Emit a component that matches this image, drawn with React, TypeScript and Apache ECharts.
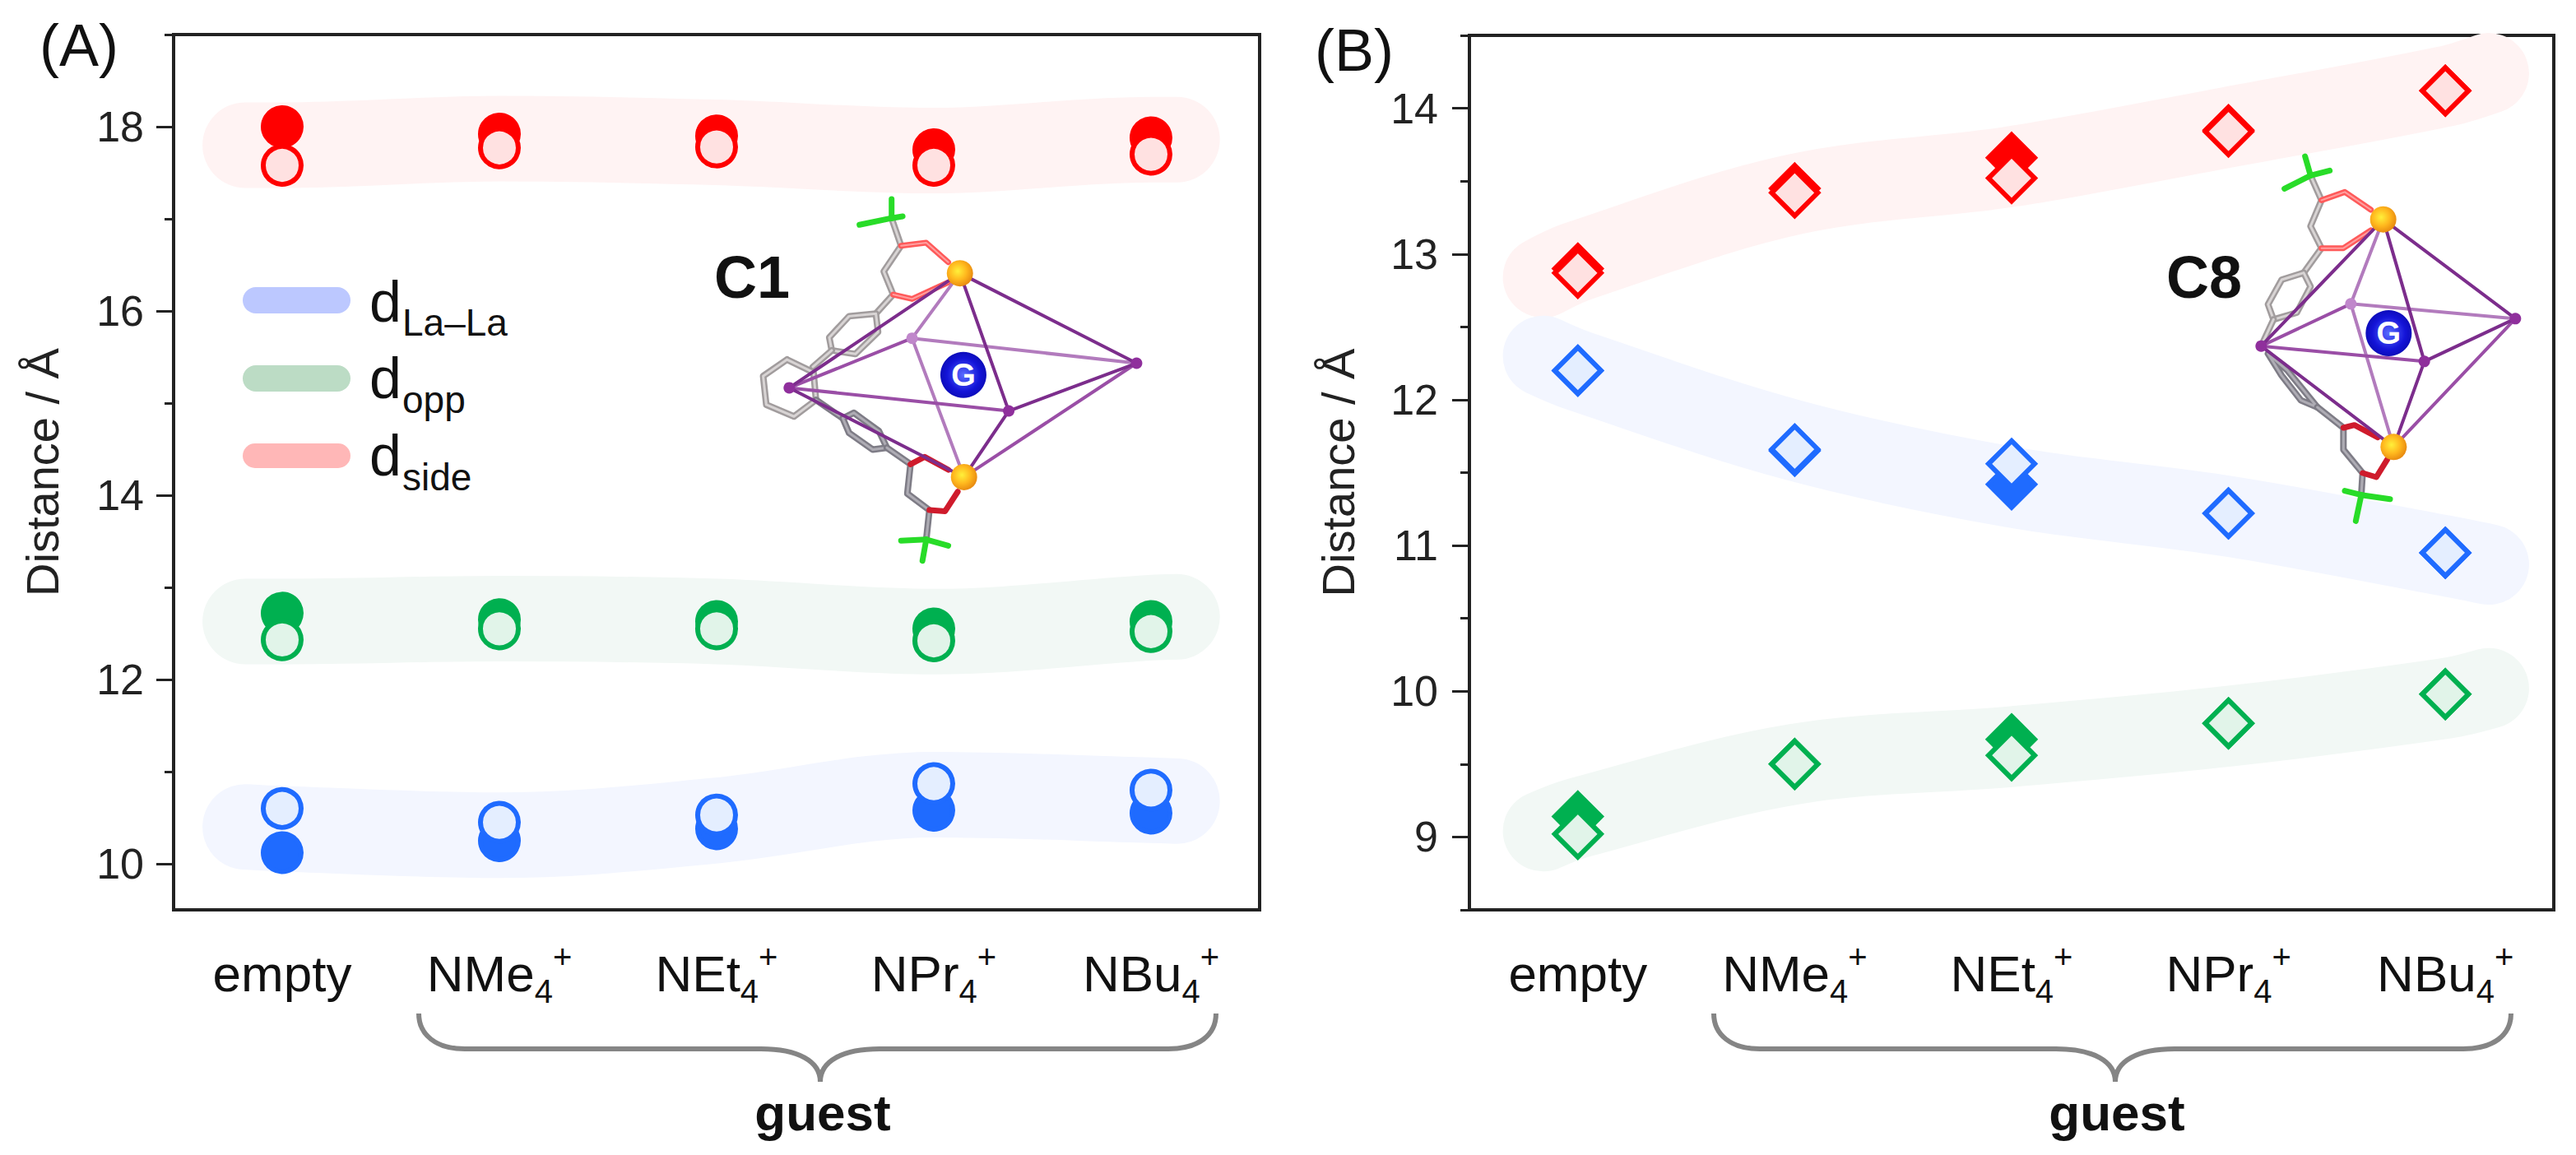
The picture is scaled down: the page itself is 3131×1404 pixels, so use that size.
import React, { useEffect, useRef } from "react";
import * as echarts from "echarts";

const FONT = '"Liberation Sans", Arial, sans-serif';

const categories = ["empty", "NMe", "NEt", "NPr", "NBu"];

// Panel A
const aRedFilled = [18.0, 17.92, 17.9, 17.75, 17.88];
const aRedHollow = [17.58, 17.77, 17.78, 17.58, 17.7];
const aGreenFilled = [12.72, 12.65, 12.63, 12.55, 12.63];
const aGreenHollow = [12.43, 12.55, 12.55, 12.42, 12.52];
const aBlueFilled = [10.12, 10.25, 10.38, 10.58, 10.55];
const aBlueHollow = [10.6, 10.45, 10.53, 10.87, 10.8];
const aBandX = [-0.17, 0, 1, 2, 3, 4, 4.12];
const aBandRed = [17.8, 17.8, 17.87, 17.83, 17.74, 17.86, 17.86];
const aBandGreen = [12.63, 12.63, 12.66, 12.63, 12.52, 12.67, 12.68];
const aBandBlue = [10.4, 10.38, 10.31, 10.47, 10.75, 10.69, 10.68];

// Panel B
const bRedFilled = [12.9, 13.45, 13.66, 13.85, 14.12];
const bRedHollow = [12.87, 13.42, 13.52, 13.84, 14.12];
const bBlueFilled = [12.2, 11.65, 11.42, 11.22, 10.95];
const bBlueHollow = [12.2, 11.66, 11.56, 11.22, 10.95];
const bGreenFilled = [9.14, 9.5, 9.67, 9.78, 9.98];
const bGreenHollow = [9.02, 9.5, 9.56, 9.78, 9.98];
const bBandX = [-0.16, 0, 1, 2, 3, 4, 4.2];
const bBandRed = [12.84, 12.95, 13.41, 13.6, 13.87, 14.15, 14.24];
const bBandBlue = [12.3, 12.2, 11.72, 11.4, 11.2, 10.93, 10.87];
const bBandGreen = [9.04, 9.13, 9.5, 9.62, 9.76, 9.95, 10.02];

const aMajorTicks = [10, 12, 14, 16, 18];
const aMinorTicks = [11, 13, 15, 17, 19];
const bMajorTicks = [9, 10, 11, 12, 13, 14];
const bMinorTicks = [8.5, 9.5, 10.5, 11.5, 12.5, 13.5, 14.5];

const RED = "#ff0000";
const GREEN = "#00b050";
const BLUE = "#1f6bff";
const RED_FILL = "#ffe1e1";
const GREEN_FILL = "#e1f4e9";
const BLUE_FILL = "#e4eeff";
const RED_BAND = "#fff3f3";
const GREEN_BAND = "#f2f8f5";
const BLUE_BAND = "#f3f6ff";
const AXIS = "#222222";

type Pt = [number, number];
interface Mol {
  ox: number; oy: number; sx: number; sy: number;
  gold: Pt[]; left: Pt; right: Pt; back: Pt; front: Pt; g: Pt;
  gray: Pt[][]; grayDark: Pt[][];
  redLight: Pt[][]; redDark: Pt[][];
  cf3: Pt[][];
}

const molC1: Mol = {
  ox: 900, oy: 100, sx: 2.613, sy: 2.24,
  gold: [[697, 520], [710, 1075]],
  left: [155, 832], right: [1258, 765], back: [545, 697], front: [852, 895], g: [708, 797],
  gray: [
    [[480, 370], [510, 445], [455, 515], [485, 578], [430, 630]],
    [[430, 630], [437, 680], [365, 740], [290, 730], [282, 695], [345, 637], [430, 630]],
    [[290, 730], [230, 775]],
    [[148, 755], [72, 800], [82, 878], [170, 910], [240, 865], [232, 790], [148, 755]],
  ],
  grayDark: [
    [[240, 865], [325, 915]],
    [[325, 915], [360, 900], [440, 950], [465, 995], [420, 1000], [345, 955], [325, 915]],
    [[465, 995], [540, 1040], [530, 1120], [600, 1165], [590, 1245]],
  ],
  redLight: [[[510, 445], [590, 437], [660, 490]], [[485, 578], [545, 590], [660, 545]]],
  redDark: [[[540, 1040], [585, 1020], [660, 1055]], [[600, 1165], [650, 1168], [690, 1115]]],
  cf3: [
    [[480, 370], [480, 318]], [[480, 370], [515, 365]], [[480, 370], [378, 388]],
    [[590, 1245], [510, 1248]], [[590, 1245], [660, 1262]], [[590, 1245], [578, 1303]],
  ],
};

const molC8: Mol = {
  ox: 2600, oy: 150, sx: 3, sy: 3,
  gold: [[890, 350], [928, 1180]],
  left: [445, 812], right: [1372, 712], back: [772, 658], front: [1040, 868], g: [910, 765],
  gray: [
    [[625, 190], [665, 280], [625, 375], [665, 455], [600, 545]],
    [[600, 545], [520, 570], [470, 660], [490, 715], [575, 690], [625, 595], [600, 545]],
    [[490, 715], [445, 812]],
  ],
  grayDark: [
    [[470, 840], [540, 900], [650, 1035], [590, 1010], [520, 920], [470, 840]],
    [[650, 1035], [745, 1110], [745, 1190], [815, 1275], [810, 1355]],
  ],
  redLight: [[[665, 280], [750, 250], [845, 315]], [[665, 455], [745, 455], [845, 390]]],
  redDark: [[[745, 1110], [785, 1100], [870, 1145]], [[815, 1275], [865, 1290], [905, 1225]]],
  cf3: [
    [[625, 190], [605, 120]], [[625, 190], [695, 172]], [[625, 190], [530, 238]],
    [[810, 1355], [750, 1340]], [[810, 1355], [915, 1370]], [[810, 1355], [790, 1450]],
  ],
};

const BRACE =
  "M509 1232 C509 1258 530 1275 565 1275 L925 1275 C970 1275 997 1290 997 1315 C997 1290 1024 1275 1069 1275 L1420 1275 C1457 1275 1478 1258 1478 1232";

echarts.graphic.registerShape("brace", echarts.graphic.extendPath(BRACE, {}));

function text(t: string, x: number, yMid: number, size: number, opts: any = {}) {
  return {
    type: "text", x, y: yMid, z: 20,
    style: {
      text: t, fill: opts.fill || "#111111", align: opts.align || "left", verticalAlign: "middle",
      font: `${opts.bold ? "bold " : ""}${size}px ${FONT}`,
    },
  };
}

function moleculeGraphics(m: Mol): any[] {
  const p = (q: Pt): number[] => [m.ox + q[0] / m.sx, m.oy + q[1] / m.sy];
  const poly = (pts: Pt[], stroke: string, lineWidth: number) => ({
    type: "polyline", z: 15,
    shape: { points: pts.map(p) },
    style: { stroke, lineWidth, fill: "none", lineJoin: "round", lineCap: "round" },
  });
  const out: any[] = [];
  m.gray.forEach((g) => { out.push(poly(g, "#a19c9d", 8)); out.push(poly(g, "#d8d4d4", 3)); });
  m.grayDark.forEach((g) => { out.push(poly(g, "#7e7c86", 8)); out.push(poly(g, "#aeacb4", 3)); });
  m.redLight.forEach((g) => { out.push(poly(g, "#ff5a5a", 7)); out.push(poly(g, "#ffa0a0", 2)); });
  m.redDark.forEach((g) => out.push(poly(g, "#cf1b2c", 7)));
  m.cf3.forEach((g) => out.push(poly(g, "#28dc28", 7)));
  const [top, bottom] = m.gold;
  const dark: [Pt, Pt][] = [[top, m.left], [top, m.right], [bottom, m.left], [bottom, m.front], [m.front, m.right], [top, m.front]];
  const mid: [Pt, Pt][] = [[m.left, m.front], [m.left, m.back], [bottom, m.right]];
  const light: [Pt, Pt][] = [[top, m.back], [bottom, m.back], [m.back, m.right]];
  light.forEach((s) => out.push(poly(s as Pt[], "#b27bbd", 4)));
  mid.forEach((s) => out.push(poly(s as Pt[], "#9a4ea6", 4)));
  dark.forEach((s) => out.push(poly(s as Pt[], "#7c2d8c", 4)));
  [m.left, m.right, m.front].forEach((a) => {
    const c = p(a);
    out.push({ type: "circle", z: 16, shape: { cx: c[0], cy: c[1], r: 7 }, style: { fill: "#8f2f9c" } });
  });
  const b = p(m.back);
  out.push({ type: "circle", z: 16, shape: { cx: b[0], cy: b[1], r: 7 }, style: { fill: "#c087cb" } });
  m.gold.forEach((a) => {
    const c = p(a);
    out.push({
      type: "circle", z: 17, shape: { cx: c[0], cy: c[1], r: 16 },
      style: {
        fill: new echarts.graphic.RadialGradient(0.42, 0.42, 0.6, [
          { offset: 0, color: "#fff03a" }, { offset: 0.55, color: "#ffb81e" }, { offset: 1, color: "#e88a10" },
        ]),
      },
    });
  });
  const g = p(m.g);
  out.push({
    type: "circle", z: 17, shape: { cx: g[0], cy: g[1], r: 28 },
    style: {
      fill: new echarts.graphic.RadialGradient(0.5, 0.5, 0.55, [
        { offset: 0, color: "#5a6cff" }, { offset: 0.65, color: "#1414d8" }, { offset: 1, color: "#0a0ab0" },
      ]),
    },
  });
  out.push({
    type: "text", x: g[0], y: g[1], z: 18,
    style: { text: "G", fill: "#ffffff", align: "center", verticalAlign: "middle", font: `bold 38px ${FONT}` },
  });
  return out;
}

function legendGraphics(): any[] {
  const rows = [
    { y: 349, h: 32, c: "#bcc8ff", sub: "La–La", dMid: 367, subMid: 392 },
    { y: 444, h: 32, c: "#bcdcc5", sub: "opp", dMid: 460, subMid: 486 },
    { y: 539, h: 30, c: "#ffb7b7", sub: "side", dMid: 554, subMid: 580 },
  ];
  const out: any[] = [];
  rows.forEach((r) => {
    out.push({
      type: "rect", z: 12, shape: { x: 295, y: r.y, width: 131, height: r.h, r: 16 },
      style: { fill: r.c },
    });
    out.push(text("d", 449, r.dMid, 70));
    out.push(text(r.sub, 489, r.subMid, 46));
  });
  return out;
}

const band = (name: string, xs: number[], ys: number[], color: string, xi: number, yi: number, width: number) => ({
  name, type: "line", xAxisIndex: xi, yAxisIndex: yi, z: 1, silent: true, showSymbol: false, symbol: "none", smooth: 0.35,
  data: xs.map((x, i) => [x, ys[i]]),
  lineStyle: { color, width, cap: "round", join: "round" },
});

const dots = (name: string, data: number[], symbol: string, size: number, width: number, color: string, fill: string | null, xi: number, yi: number, z: number) => ({
  name, type: "scatter", xAxisIndex: xi, yAxisIndex: yi, z, symbol, symbolSize: size, data,
  itemStyle: fill
    ? { color: fill, borderColor: color, borderWidth: width, opacity: 1 }
    : { color, borderColor: color, borderWidth: width, opacity: 1 },
});

const richLabels = {
  m: { fontFamily: FONT, fontSize: 62, color: "#111", lineHeight: 90 },
  s: { fontFamily: FONT, fontSize: 40, color: "#111", lineHeight: 90, padding: [44, 0, 0, 0] },
  u: { fontFamily: FONT, fontSize: 40, color: "#111", lineHeight: 90, padding: [0, 0, 40, 0] },
};

const catAxis = (gridIndex: number) => ({
  type: "category", gridIndex, data: categories, boundaryGap: true,
  axisLine: { onZero: false, lineStyle: { color: AXIS, width: 4 } },
  axisTick: { alignWithLabel: true, length: 21, lineStyle: { color: AXIS, width: 3 } },
  splitLine: { show: false },
  axisLabel: {
    interval: 0, margin: 32, rich: richLabels,
    formatter: (v: string) => (v === "empty" ? `{m|${v}}` : `{m|${v}}{s|4}{u|+}`),
  },
});

const hiddenX = (gridIndex: number) => ({
  type: "value", gridIndex, min: -0.5, max: 4.5, show: false,
});

const yMain = (gridIndex: number, min: number, max: number, major: number[], margin: number) => ({
  type: "value", gridIndex, min, max, position: "left",
  name: "Distance / Å", nameLocation: "middle", nameGap: 132, nameRotate: 90,
  nameTextStyle: { fontFamily: FONT, fontSize: 56, color: "#222" },
  splitLine: { show: false },
  axisLine: { show: true, onZero: false, lineStyle: { color: AXIS, width: 4 } },
  axisTick: { show: true, length: 21, customValues: major, lineStyle: { color: AXIS, width: 3 } },
  axisLabel: { customValues: major, margin, fontFamily: FONT, fontSize: 52, color: "#222" },
});

const yMinor = (gridIndex: number, min: number, max: number, minor: number[]) => ({
  type: "value", gridIndex, min, max, position: "left",
  splitLine: { show: false },
  axisLine: { show: false, onZero: false },
  axisLabel: { show: false },
  axisTick: { show: true, length: 11, customValues: minor, lineStyle: { color: AXIS, width: 3 } },
});

export default function App() {
  const ref = useRef<HTMLDivElement>(null);
  useEffect(() => {
    document.body.style.margin = "0";
    const chart = echarts.init(ref.current!, undefined, { renderer: "svg" });
    chart.setOption({
      animation: false,
      backgroundColor: "#ffffff",
      grid: [
        { left: 211, top: 42, width: 1320, height: 1064, show: true, borderColor: AXIS, borderWidth: 4, backgroundColor: "transparent", containLabel: false },
        { left: 1786, top: 43, width: 1318, height: 1063, show: true, borderColor: AXIS, borderWidth: 4, backgroundColor: "transparent", containLabel: false },
      ],
      xAxis: [catAxis(0), hiddenX(0), catAxis(1), hiddenX(1)],
      yAxis: [
        yMain(0, 9.5, 19, aMajorTicks, 36),
        yMinor(0, 9.5, 19, aMinorTicks),
        yMain(1, 8.5, 14.5, bMajorTicks, 38),
        yMinor(1, 8.5, 14.5, bMinorTicks),
      ],
      series: [
        band("A dside band", aBandX, aBandRed, RED_BAND, 1, 0, 104),
        band("A dopp band", aBandX, aBandGreen, GREEN_BAND, 1, 0, 104),
        band("A dLa-La band", aBandX, aBandBlue, BLUE_BAND, 1, 0, 104),
        band("B dside band", bBandX, bBandRed, RED_BAND, 3, 2, 98),
        band("B dLa-La band", bBandX, bBandBlue, BLUE_BAND, 3, 2, 98),
        band("B dopp band", bBandX, bBandGreen, GREEN_BAND, 3, 2, 98),
        dots("A dside filled", aRedFilled, "circle", 46, 6, RED, null, 0, 0, 3),
        dots("A dopp filled", aGreenFilled, "circle", 46, 6, GREEN, null, 0, 0, 3),
        dots("A dLa-La filled", aBlueFilled, "circle", 46, 6, BLUE, null, 0, 0, 3),
        dots("A dside", aRedHollow, "circle", 46, 6, RED, RED_FILL, 0, 0, 4),
        dots("A dopp", aGreenHollow, "circle", 46, 6, GREEN, GREEN_FILL, 0, 0, 4),
        dots("A dLa-La", aBlueHollow, "circle", 46, 6, BLUE, BLUE_FILL, 0, 0, 4),
        dots("B dside filled", bRedFilled, "diamond", 56, 6, RED, null, 2, 2, 3),
        dots("B dLa-La filled", bBlueFilled, "diamond", 56, 6, BLUE, null, 2, 2, 3),
        dots("B dopp filled", bGreenFilled, "diamond", 56, 6, GREEN, null, 2, 2, 3),
        dots("B dside", bRedHollow, "diamond", 56, 6, RED, RED_FILL, 2, 2, 4),
        dots("B dLa-La", bBlueHollow, "diamond", 56, 6, BLUE, BLUE_FILL, 2, 2, 4),
        dots("B dopp", bGreenHollow, "diamond", 56, 6, GREEN, GREEN_FILL, 2, 2, 4),
      ],
      graphic: {
        elements: [
          text("(A)", 48, 55, 72),
          text("(B)", 1598, 61, 72),
          text("C1", 960, 337, 72, { bold: true, align: "right" }),
          text("C8", 2679, 337, 72, { bold: true, align: "center" }),
          text("guest", 1000, 1352, 62, { bold: true, align: "center" }),
          text("guest", 2573, 1352, 62, { bold: true, align: "center" }),
          { type: "brace", z: 12, x: 0, y: 0, style: { fill: "none", stroke: "#858585", lineWidth: 6 } },
          { type: "brace", z: 12, x: 1574, y: 0, style: { fill: "none", stroke: "#858585", lineWidth: 6 } },
          ...legendGraphics(),
          ...moleculeGraphics(molC1),
          ...moleculeGraphics(molC8),
        ],
      },
    });
    return () => chart.dispose();
  }, []);
  return <div ref={ref} style={{ position: "fixed", left: 0, top: 0, width: 3131, height: 1404 }} />;
}
